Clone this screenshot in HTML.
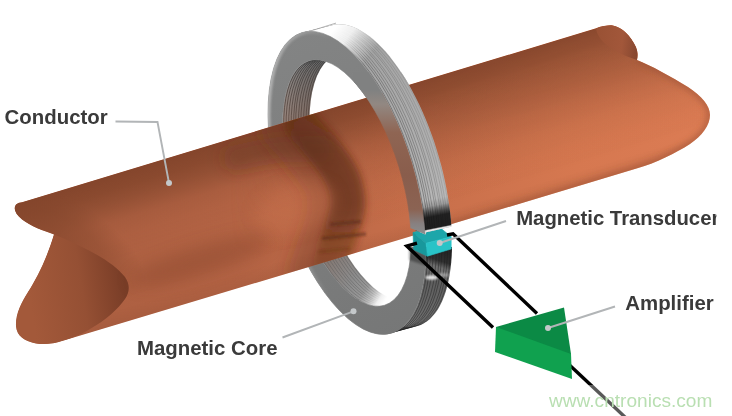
<!DOCTYPE html>
<html><head><meta charset="utf-8"><title>Current sensor diagram</title>
<style>html,body{margin:0;padding:0;background:#fff;}body{width:732px;height:416px;overflow:hidden;font-family:"Liberation Sans",sans-serif;}svg{display:block;}</style>
</head><body>
<svg width="732" height="416" viewBox="0 0 732 416">
<defs>
<linearGradient id="gAxis" gradientUnits="userSpaceOnUse" x1="20" y1="290" x2="700" y2="85">
 <stop offset="0" stop-color="#aa5e40"/><stop offset="0.3" stop-color="#b36344"/><stop offset="0.55" stop-color="#c66e4a"/><stop offset="0.8" stop-color="#d67850"/><stop offset="1" stop-color="#dc7c54"/>
</linearGradient>
<linearGradient id="gPerp" gradientUnits="userSpaceOnUse" x1="300" y1="118.2" x2="342" y2="258">
 <stop offset="0" stop-color="#82442b" stop-opacity="0.96"/><stop offset="0.1" stop-color="#84462c" stop-opacity="0.86"/><stop offset="0.17" stop-color="#86482e" stop-opacity="0.72"/><stop offset="0.24" stop-color="#86482e" stop-opacity="0.48"/><stop offset="0.31" stop-color="#8a4a30" stop-opacity="0.24"/><stop offset="0.42" stop-color="#8c4c31" stop-opacity="0.07"/><stop offset="0.55" stop-color="#8c4c31" stop-opacity="0.01"/><stop offset="0.9" stop-color="#8c4c31" stop-opacity="0"/><stop offset="1" stop-color="#8c4c31" stop-opacity="0.2"/>
</linearGradient>
<linearGradient id="gPerpR" gradientUnits="userSpaceOnUse" x1="300" y1="117" x2="342" y2="257">
 <stop offset="0.14" stop-color="#86482e" stop-opacity="0"/><stop offset="0.24" stop-color="#86482e" stop-opacity="0.28"/><stop offset="0.31" stop-color="#88492f" stop-opacity="0.4"/><stop offset="0.4" stop-color="#8a4a30" stop-opacity="0.35"/><stop offset="0.5" stop-color="#8a4a30" stop-opacity="0.25"/><stop offset="0.62" stop-color="#8c4c31" stop-opacity="0.13"/><stop offset="0.75" stop-color="#8c4c31" stop-opacity="0.04"/><stop offset="0.86" stop-color="#8c4c31" stop-opacity="0"/>
</linearGradient>
<linearGradient id="gAxisMask" gradientUnits="userSpaceOnUse" x1="230" y1="0" x2="440" y2="0">
 <stop offset="0" stop-color="#000"/><stop offset="1" stop-color="#fff"/>
</linearGradient>
<linearGradient id="gAxisMask2" gradientUnits="userSpaceOnUse" x1="380" y1="0" x2="640" y2="0">
 <stop offset="0" stop-color="#fff"/><stop offset="1" stop-color="#ececec"/>
</linearGradient>
<mask id="mAxis2" maskUnits="userSpaceOnUse" x="0" y="0" width="732" height="416"><rect width="732" height="416" fill="url(#gAxisMask2)"/></mask>
<mask id="mAxis" maskUnits="userSpaceOnUse" x="0" y="0" width="732" height="416"><rect width="732" height="416" fill="url(#gAxisMask)"/></mask>
<radialGradient id="gLeftDark" gradientUnits="userSpaceOnUse" cx="0" cy="0" r="1" gradientTransform="translate(58,236) rotate(31.7) scale(100,40)">
 <stop offset="0" stop-color="#84462c" stop-opacity="0.6"/><stop offset="0.5" stop-color="#84462c" stop-opacity="0.42"/><stop offset="1" stop-color="#84462c" stop-opacity="0"/>
</radialGradient>
<linearGradient id="gMouth" gradientUnits="userSpaceOnUse" x1="30" y1="300" x2="125" y2="285">
 <stop offset="0" stop-color="#a3593a"/><stop offset="0.55" stop-color="#955034"/><stop offset="0.85" stop-color="#82432b"/><stop offset="1" stop-color="#783d27"/>
</linearGradient>
<linearGradient id="gLobe" gradientUnits="userSpaceOnUse" x1="598" y1="40" x2="638" y2="45">
 <stop offset="0" stop-color="#9a5235"/><stop offset="0.6" stop-color="#a2573a"/><stop offset="1" stop-color="#864730"/>
</linearGradient>
<linearGradient id="gBandUp" gradientUnits="userSpaceOnUse" x1="325" y1="25" x2="450" y2="228">
 <stop offset="0" stop-color="#909191"/><stop offset="0.12" stop-color="#9e9f9f"/><stop offset="0.3" stop-color="#a7a7a7"/><stop offset="0.7" stop-color="#b1b1b1"/><stop offset="1" stop-color="#bebebe"/>
</linearGradient>
<linearGradient id="gBandDark" gradientUnits="userSpaceOnUse" x1="432.7" y1="199" x2="439.2" y2="231.6">
 <stop offset="0" stop-color="#000" stop-opacity="0"/><stop offset="0.2" stop-color="#000" stop-opacity="0.16"/><stop offset="0.38" stop-color="#0a0a0a" stop-opacity="0.62"/><stop offset="0.52" stop-color="#0a0a0a" stop-opacity="0.87"/><stop offset="0.86" stop-color="#111" stop-opacity="0.92"/><stop offset="0.9" stop-color="#e8e8e8" stop-opacity="0.95"/><stop offset="1" stop-color="#f4f4f4" stop-opacity="1"/>
</linearGradient>
<linearGradient id="gBandLo" gradientUnits="userSpaceOnUse" x1="440" y1="250" x2="415" y2="325">
 <stop offset="0" stop-color="#262626"/><stop offset="0.13" stop-color="#303030"/><stop offset="0.21" stop-color="#6c6c6c"/><stop offset="0.28" stop-color="#707070"/><stop offset="0.38" stop-color="#5e5e5e"/><stop offset="1" stop-color="#707070"/>
</linearGradient>
<linearGradient id="gInsUp" gradientUnits="userSpaceOnUse" x1="284" y1="0" x2="318" y2="0">
 <stop offset="0" stop-color="#909090"/><stop offset="0.4" stop-color="#7c7c7c"/><stop offset="1" stop-color="#666"/>
</linearGradient>
<linearGradient id="gInsLo" gradientUnits="userSpaceOnUse" x1="330" y1="260" x2="392" y2="300">
 <stop offset="0" stop-color="#857a75"/><stop offset="0.4" stop-color="#8c8c8c"/><stop offset="0.62" stop-color="#989898"/><stop offset="0.74" stop-color="#bebebe"/><stop offset="0.85" stop-color="#f0f0f0"/><stop offset="0.93" stop-color="#ffffff"/>
</linearGradient>
<linearGradient id="gFace" gradientUnits="userSpaceOnUse" x1="280" y1="40" x2="420" y2="330">
 <stop offset="0" stop-color="#838484"/><stop offset="0.5" stop-color="#7d7e7e"/><stop offset="1" stop-color="#767777"/>
</linearGradient>
<linearGradient id="gFFup" gradientUnits="userSpaceOnUse" x1="0" y1="90" x2="0" y2="232">
 <stop offset="0" stop-color="#808181"/><stop offset="0.1" stop-color="#928882"/><stop offset="0.3" stop-color="#8f6553"/><stop offset="0.6" stop-color="#895d4c"/><stop offset="0.84" stop-color="#8b6353"/><stop offset="0.94" stop-color="#878080"/><stop offset="1" stop-color="#8a8a8a"/>
</linearGradient>
<linearGradient id="gShad" gradientUnits="userSpaceOnUse" x1="0" y1="125" x2="0" y2="268">
 <stop offset="0" stop-color="#54270f" stop-opacity="0.42"/><stop offset="0.22" stop-color="#54270f" stop-opacity="0.56"/><stop offset="0.56" stop-color="#54270f" stop-opacity="0.58"/><stop offset="0.68" stop-color="#54270f" stop-opacity="0.5"/><stop offset="0.8" stop-color="#54270f" stop-opacity="0.36"/><stop offset="1" stop-color="#54270f" stop-opacity="0.18"/>
</linearGradient>
<linearGradient id="gTint" gradientUnits="userSpaceOnUse" x1="0" y1="62" x2="0" y2="130">
 <stop offset="0" stop-color="#a0644a" stop-opacity="0"/><stop offset="1" stop-color="#a0644a" stop-opacity="0.38"/>
</linearGradient>
<linearGradient id="gFade" gradientUnits="userSpaceOnUse" x1="342" y1="20" x2="376" y2="48">
 <stop offset="0" stop-color="#fff" stop-opacity="1"/><stop offset="0.35" stop-color="#fff" stop-opacity="0.85"/><stop offset="0.6" stop-color="#fff" stop-opacity="0.5"/><stop offset="1" stop-color="#fff" stop-opacity="0"/>
</linearGradient>
<filter id="blur6" filterUnits="userSpaceOnUse" x="0" y="0" width="732" height="416"><feGaussianBlur stdDeviation="6"/></filter>
<filter id="blur5" filterUnits="userSpaceOnUse" x="0" y="0" width="732" height="416"><feGaussianBlur stdDeviation="4.5"/></filter>
<filter id="blur3" filterUnits="userSpaceOnUse" x="0" y="0" width="732" height="416"><feGaussianBlur stdDeviation="3"/></filter>
<filter id="blur1" filterUnits="userSpaceOnUse" x="0" y="0" width="732" height="416"><feGaussianBlur stdDeviation="1.2"/></filter>
<filter id="blur8" filterUnits="userSpaceOnUse" x="0" y="0" width="732" height="416"><feGaussianBlur stdDeviation="8"/></filter>
<filter id="blur3b" filterUnits="userSpaceOnUse" x="0" y="0" width="732" height="416"><feGaussianBlur stdDeviation="3.5"/></filter>
<clipPath id="cCond"><path d="M22,202.2 L596,28.2 C603,25.6 609,25 613,25.5 C622,27 631,36 636,47 C638,52 638,56 637,60 C650,65 672,77 688,87 C702,96 710,106 710,115 C710,125 702,136 690,144 C676,153 656,163 636.5,168.6 L62,341 C55,343.5 45,345 36,343.5 C25,341.5 16.5,336 16,326 C15.5,314 21,303 28,292 C37,278 47,258 54,234.5 C44,231 30,226 22,219.5 C15,214 13,208 16,204.6 C18,202.7 20,202.4 22,202.2 Z"/></clipPath>
<clipPath id="cBO"><path d="M268.1,110.1 L268.3,103.3 L268.7,96.7 L269.4,90.2 L270.2,84.1 L271.3,78.2 L272.6,72.6 L274.0,67.3 L275.7,62.4 L277.6,57.7 L279.6,53.4 L281.9,49.5 L284.3,45.9 L286.9,42.7 L289.7,39.9 L292.6,37.5 L295.6,35.4 L298.8,33.8 L302.2,32.6 L331.3,25.4 L334.7,24.6 L338.3,24.3 L341.9,24.4 L345.7,24.8 L349.5,25.7 L353.4,27.0 L357.3,28.7 L361.3,30.9 L365.3,33.4 L369.4,36.3 L373.4,39.6 L377.5,43.2 L381.5,47.2 L385.6,51.6 L389.6,56.3 L393.5,61.4 L397.4,66.7 L401.3,72.4 L405.1,78.3 L408.8,84.5 L412.3,91.0 L415.8,97.7 L419.2,104.6 L422.5,111.7 L425.6,118.9 L428.6,126.4 L431.4,133.9 L434.1,141.6 L436.6,149.4 L438.9,157.2 L441.1,165.1 L443.1,173.0 L444.9,180.9 L446.5,188.9 L447.9,196.7 L449.1,204.6 L450.1,212.3 L450.9,219.9 L451.5,227.5 L451.8,234.8 L452.0,242.1 L452.0,249.1 L451.7,255.9 L451.2,262.5 L450.5,268.9 L449.6,275.0 L448.5,280.9 L447.2,286.4 L445.7,291.7 L444.0,296.6 L442.1,301.2 L440.0,305.5 L437.8,309.4 L435.3,312.9 L432.7,316.1 L430.0,318.9 L427.1,321.3 L424.0,323.3 L420.8,324.9 L417.5,326.0 L391.6,333.1 L388.1,333.9 L384.6,334.3 L380.9,334.3 L377.1,333.9 L373.3,333.0 L369.4,331.7 L365.4,330.1 L361.3,328.0 L357.3,325.5 L353.2,322.7 L349.0,319.4 L344.9,315.8 L340.8,311.8 L336.7,307.5 L332.6,302.8 L328.6,297.8 L324.6,292.4 L320.7,286.8 L316.8,280.9 L313.0,274.7 L309.4,268.3 L305.8,261.6 L302.3,254.7 L299.0,247.7 L295.8,240.4 L292.7,233.0 L289.8,225.4 L287.0,217.8 L284.4,210.0 L282.0,202.2 L279.7,194.3 L277.7,186.4 L275.8,178.4 L274.1,170.5 L272.6,162.6 L271.3,154.8 L270.3,147.0 L269.4,139.4 L268.8,131.8 L268.3,124.4 L268.1,117.2 Z"/></clipPath>
<clipPath id="cFO"><path d="M302.17,32.58 A156.79,67.70 -106.57 1,0 391.59,333.14 A156.79,67.70 -106.57 1,0 302.17,32.58 Z"/></clipPath>
<linearGradient id="gHi" gradientUnits="userSpaceOnUse" x1="262" y1="0" x2="330" y2="0"><stop offset="0" stop-color="#c4c4c4" stop-opacity="0.8"/><stop offset="0.5" stop-color="#c0c0c0" stop-opacity="0.45"/><stop offset="1" stop-color="#c0c0c0" stop-opacity="0"/></linearGradient>
<clipPath id="cFI"><path d="M309.10,60.73 A127.94,54.60 -107.14 1,0 384.52,305.25 A127.94,54.60 -107.14 1,0 309.10,60.73 Z"/></clipPath>
<clipPath id="cUpper"><rect x="0" y="0" width="732" height="240"/></clipPath>
<clipPath id="cLower"><rect x="0" y="240" width="732" height="176"/></clipPath>
<clipPath id="cBack"><path clip-rule="evenodd" d="M0,0H732V416H0Z M400,212H475V247H400Z"/></clipPath>
<clipPath id="cFront"><path d="M352,72 L500,72 L500,216 L452,226.6 L426.2,232.2 L425.3,234.6 L411,228.2 L380,228 Z"/></clipPath>
<linearGradient id="gMaskLo" gradientUnits="userSpaceOnUse" x1="330" y1="260" x2="392" y2="300"><stop offset="0" stop-color="#fff"/><stop offset="0.55" stop-color="#fff"/><stop offset="0.85" stop-color="#000"/></linearGradient>
<mask id="mInsLo" maskUnits="userSpaceOnUse" x="0" y="0" width="732" height="416"><rect width="732" height="416" fill="url(#gMaskLo)"/></mask>
</defs>
<rect width="732" height="416" fill="#fff"/>
<g id="ringback" clip-path="url(#cBack)">
<g clip-path="url(#cBO)">
<g clip-path="url(#cUpper)">
<path d="M-10,-10 H750 V430 H-10 Z M302.17,32.58 A156.79,67.70 -106.57 1,0 391.59,333.14 A156.79,67.70 -106.57 1,0 302.17,32.58 Z" fill-rule="evenodd" fill="url(#gBandUp)"/>
<path d="M303.38,32.28 A156.77,67.68 -106.55 1,0 392.67,332.84 A156.77,67.68 -106.55 1,0 303.38,32.28 Z" fill="none" stroke="#686868" stroke-width="0.99" opacity="0.78"/>
<path d="M305.81,31.68 A156.74,67.63 -106.50 1,0 394.83,332.25 A156.74,67.63 -106.50 1,0 305.81,31.68 Z" fill="none" stroke="#686868" stroke-width="0.96" opacity="0.74"/>
<path d="M308.24,31.08 A156.70,67.59 -106.45 1,0 396.99,331.66 A156.70,67.59 -106.45 1,0 308.24,31.08 Z" fill="none" stroke="#686868" stroke-width="0.92" opacity="0.71"/>
<path d="M310.66,30.48 A156.67,67.54 -106.40 1,0 399.15,331.07 A156.67,67.54 -106.40 1,0 310.66,30.48 Z" fill="none" stroke="#686868" stroke-width="0.88" opacity="0.67"/>
<path d="M313.09,29.88 A156.63,67.49 -106.36 1,0 401.31,330.47 A156.63,67.49 -106.36 1,0 313.09,29.88 Z" fill="none" stroke="#686868" stroke-width="0.84" opacity="0.63"/>
<path d="M315.52,29.29 A156.60,67.45 -106.31 1,0 403.46,329.88 A156.60,67.45 -106.31 1,0 315.52,29.29 Z" fill="none" stroke="#686868" stroke-width="0.81" opacity="0.60"/>
<path d="M317.95,28.69 A156.56,67.40 -106.26 1,0 405.62,329.29 A156.56,67.40 -106.26 1,0 317.95,28.69 Z" fill="none" stroke="#686868" stroke-width="0.77" opacity="0.56"/>
<path d="M320.38,28.09 A156.53,67.36 -106.21 1,0 407.78,328.69 A156.53,67.36 -106.21 1,0 320.38,28.09 Z" fill="none" stroke="#686868" stroke-width="0.73" opacity="0.52"/>
<path d="M322.81,27.49 A156.49,67.31 -106.16 1,0 409.94,328.10 A156.49,67.31 -106.16 1,0 322.81,27.49 Z" fill="none" stroke="#686868" stroke-width="0.69" opacity="0.49"/>
<path d="M325.24,26.89 A156.46,67.26 -106.12 1,0 412.10,327.51 A156.46,67.26 -106.12 1,0 325.24,26.89 Z" fill="none" stroke="#686868" stroke-width="0.66" opacity="0.45"/>
<path d="M327.66,26.29 A156.42,67.22 -106.07 1,0 414.26,326.91 A156.42,67.22 -106.07 1,0 327.66,26.29 Z" fill="none" stroke="#686868" stroke-width="0.62" opacity="0.41"/>
<path d="M330.09,25.69 A156.39,67.17 -106.02 1,0 416.41,326.32 A156.39,67.17 -106.02 1,0 330.09,25.69 Z" fill="none" stroke="#686868" stroke-width="0.58" opacity="0.38"/>
<rect x="296" y="5" width="95" height="75" fill="url(#gFade)"/>
<rect x="415" y="195" width="45" height="42" fill="url(#gBandDark)"/>
</g>
<g clip-path="url(#cLower)">
<path d="M-10,-10 H750 V430 H-10 Z M302.17,32.58 A156.79,67.70 -106.57 1,0 391.59,333.14 A156.79,67.70 -106.57 1,0 302.17,32.58 Z" fill-rule="evenodd" fill="url(#gBandLo)"/>
<path d="M303.78,32.18 A156.77,67.67 -106.54 1,0 393.03,332.74 A156.77,67.67 -106.54 1,0 303.78,32.18 Z" fill="none" stroke="#1c1c1c" stroke-width="0.80" opacity="0.55"/>
<path d="M307.02,31.38 A156.72,67.61 -106.47 1,0 395.91,331.95 A156.72,67.61 -106.47 1,0 307.02,31.38 Z" fill="none" stroke="#1c1c1c" stroke-width="0.80" opacity="0.55"/>
<path d="M310.26,30.58 A156.67,67.55 -106.41 1,0 398.79,331.16 A156.67,67.55 -106.41 1,0 310.26,30.58 Z" fill="none" stroke="#1c1c1c" stroke-width="0.80" opacity="0.55"/>
<path d="M313.50,29.78 A156.63,67.49 -106.35 1,0 401.67,330.37 A156.63,67.49 -106.35 1,0 313.50,29.78 Z" fill="none" stroke="#1c1c1c" stroke-width="0.80" opacity="0.55"/>
<path d="M316.74,28.99 A156.58,67.43 -106.28 1,0 404.54,329.58 A156.58,67.43 -106.28 1,0 316.74,28.99 Z" fill="none" stroke="#1c1c1c" stroke-width="0.80" opacity="0.55"/>
<path d="M319.97,28.19 A156.53,67.36 -106.22 1,0 407.42,328.79 A156.53,67.36 -106.22 1,0 319.97,28.19 Z" fill="none" stroke="#1c1c1c" stroke-width="0.80" opacity="0.55"/>
<path d="M323.21,27.39 A156.49,67.30 -106.16 1,0 410.30,328.00 A156.49,67.30 -106.16 1,0 323.21,27.39 Z" fill="none" stroke="#1c1c1c" stroke-width="0.80" opacity="0.55"/>
<path d="M326.45,26.59 A156.44,67.24 -106.09 1,0 413.18,327.21 A156.44,67.24 -106.09 1,0 326.45,26.59 Z" fill="none" stroke="#1c1c1c" stroke-width="0.80" opacity="0.55"/>
<path d="M329.69,25.79 A156.39,67.18 -106.03 1,0 416.06,326.42 A156.39,67.18 -106.03 1,0 329.69,25.79 Z" fill="none" stroke="#1c1c1c" stroke-width="0.80" opacity="0.55"/>
<ellipse cx="431.5" cy="277.5" rx="6.5" ry="2.2" fill="#fff" opacity="0.85" filter="url(#blur1)"/>
<ellipse cx="443" cy="275" rx="6" ry="2" fill="#ddd" opacity="0.45" filter="url(#blur1)"/>
</g>
</g>
<g clip-path="url(#cFI)">
<g clip-path="url(#cUpper)">
<path d="M-10,-10 H750 V430 H-10 Z M338.22,54.31 A127.50,55.30 -106.11 1,0 408.98,299.29 A127.50,55.30 -106.11 1,0 338.22,54.31 Z" fill-rule="evenodd" fill="url(#gInsUp)"/>
<path d="M310.42,60.44 A127.92,54.63 -107.10 1,0 385.63,304.98 A127.92,54.63 -107.10 1,0 310.42,60.44 Z" fill="none" stroke="#3c3c3c" stroke-width="1.00" opacity="0.80"/>
<path d="M313.07,59.86 A127.88,54.70 -107.00 1,0 387.86,304.44 A127.88,54.70 -107.00 1,0 313.07,59.86 Z" fill="none" stroke="#3c3c3c" stroke-width="1.00" opacity="0.80"/>
<path d="M315.72,59.27 A127.84,54.76 -106.91 1,0 390.08,303.90 A127.84,54.76 -106.91 1,0 315.72,59.27 Z" fill="none" stroke="#3c3c3c" stroke-width="1.00" opacity="0.80"/>
<path d="M318.36,58.68 A127.80,54.82 -106.81 1,0 392.30,303.36 A127.80,54.82 -106.81 1,0 318.36,58.68 Z" fill="none" stroke="#3c3c3c" stroke-width="1.00" opacity="0.80"/>
<path d="M321.01,58.10 A127.76,54.89 -106.72 1,0 394.53,302.82 A127.76,54.89 -106.72 1,0 321.01,58.10 Z" fill="none" stroke="#3c3c3c" stroke-width="1.00" opacity="0.80"/>
<path d="M323.66,57.52 A127.72,54.95 -106.63 1,0 396.75,302.27 A127.72,54.95 -106.63 1,0 323.66,57.52 Z" fill="none" stroke="#3c3c3c" stroke-width="1.00" opacity="0.80"/>
<path d="M326.31,56.93 A127.68,55.01 -106.53 1,0 398.98,301.73 A127.68,55.01 -106.53 1,0 326.31,56.93 Z" fill="none" stroke="#3c3c3c" stroke-width="1.00" opacity="0.80"/>
<path d="M328.95,56.35 A127.64,55.08 -106.44 1,0 401.20,301.19 A127.64,55.08 -106.44 1,0 328.95,56.35 Z" fill="none" stroke="#3c3c3c" stroke-width="1.00" opacity="0.80"/>
<path d="M331.60,55.76 A127.60,55.14 -106.35 1,0 403.42,300.65 A127.60,55.14 -106.35 1,0 331.60,55.76 Z" fill="none" stroke="#3c3c3c" stroke-width="1.00" opacity="0.80"/>
<path d="M334.25,55.18 A127.56,55.20 -106.25 1,0 405.65,300.11 A127.56,55.20 -106.25 1,0 334.25,55.18 Z" fill="none" stroke="#3c3c3c" stroke-width="1.00" opacity="0.80"/>
<path d="M336.89,54.60 A127.52,55.27 -106.16 1,0 407.87,299.56 A127.52,55.27 -106.16 1,0 336.89,54.60 Z" fill="none" stroke="#3c3c3c" stroke-width="1.00" opacity="0.80"/>
<path d="M-10,-10 H750 V430 H-10 Z M338.22,54.31 A127.50,55.30 -106.11 1,0 408.98,299.29 A127.50,55.30 -106.11 1,0 338.22,54.31 Z" fill-rule="evenodd" fill="url(#gTint)"/>
</g>
<g clip-path="url(#cLower)">
<path d="M-10,-10 H750 V430 H-10 Z M338.22,54.31 A127.50,55.30 -106.11 1,0 408.98,299.29 A127.50,55.30 -106.11 1,0 338.22,54.31 Z" fill-rule="evenodd" fill="url(#gInsLo)"/>
<g opacity="0.6" mask="url(#mInsLo)"><path d="M310.72,60.38 A127.92,54.64 -107.09 1,0 385.88,304.92 A127.92,54.64 -107.09 1,0 310.72,60.38 Z" fill="none" stroke="#585858" stroke-width="0.70" opacity="1.00"/>
<path d="M313.95,59.66 A127.87,54.72 -106.97 1,0 388.60,304.26 A127.87,54.72 -106.97 1,0 313.95,59.66 Z" fill="none" stroke="#585858" stroke-width="0.70" opacity="1.00"/>
<path d="M317.19,58.94 A127.82,54.79 -106.86 1,0 391.32,303.60 A127.82,54.79 -106.86 1,0 317.19,58.94 Z" fill="none" stroke="#585858" stroke-width="0.70" opacity="1.00"/>
<path d="M320.42,58.23 A127.77,54.87 -106.74 1,0 394.03,302.94 A127.77,54.87 -106.74 1,0 320.42,58.23 Z" fill="none" stroke="#585858" stroke-width="0.70" opacity="1.00"/>
<path d="M323.66,57.52 A127.72,54.95 -106.63 1,0 396.75,302.27 A127.72,54.95 -106.63 1,0 323.66,57.52 Z" fill="none" stroke="#585858" stroke-width="0.70" opacity="1.00"/>
<path d="M326.89,56.80 A127.67,55.03 -106.51 1,0 399.47,301.61 A127.67,55.03 -106.51 1,0 326.89,56.80 Z" fill="none" stroke="#585858" stroke-width="0.70" opacity="1.00"/>
<path d="M330.13,56.09 A127.62,55.11 -106.40 1,0 402.19,300.95 A127.62,55.11 -106.40 1,0 330.13,56.09 Z" fill="none" stroke="#585858" stroke-width="0.70" opacity="1.00"/>
<path d="M333.36,55.38 A127.57,55.18 -106.28 1,0 404.91,300.29 A127.57,55.18 -106.28 1,0 333.36,55.38 Z" fill="none" stroke="#585858" stroke-width="0.70" opacity="1.00"/>
<path d="M336.60,54.66 A127.52,55.26 -106.17 1,0 407.62,299.62 A127.52,55.26 -106.17 1,0 336.60,54.66 Z" fill="none" stroke="#585858" stroke-width="0.70" opacity="1.00"/></g>
</g>
</g>
<path d="M302.17,32.58 A156.79,67.70 -106.57 1,0 391.59,333.14 A156.79,67.70 -106.57 1,0 302.17,32.58 Z M309.10,60.73 A127.94,54.60 -107.14 1,0 384.52,305.25 A127.94,54.60 -107.14 1,0 309.10,60.73 Z" fill-rule="evenodd" fill="url(#gFace)" stroke="url(#gFace)" stroke-width="0.6"/>
<g clip-path="url(#cFO)"><path d="M302.17,32.58 A156.79,67.70 -106.57 1,0 391.59,333.14 A156.79,67.70 -106.57 1,0 302.17,32.58 Z" fill="none" stroke="url(#gHi)" stroke-width="5" filter="url(#blur1)"/></g>
<path d="M310.8,30.9 L336,23.1" stroke="#a0a0a0" stroke-width="0.8" fill="none"/>
</g>
<path d="M409,247 L427,256 L427,266 L409,260 Z" fill="#000" opacity="0.35" filter="url(#blur1)"/>
<g id="conductor">
<path d="M22,202.2 L596,28.2 C603,25.6 609,25 613,25.5 C622,27 631,36 636,47 C638,52 638,56 637,60 C650,65 672,77 688,87 C702,96 710,106 710,115 C710,125 702,136 690,144 C676,153 656,163 636.5,168.6 L62,341 C55,343.5 45,345 36,343.5 C25,341.5 16.5,336 16,326 C15.5,314 21,303 28,292 C37,278 47,258 54,234.5 C44,231 30,226 22,219.5 C15,214 13,208 16,204.6 C18,202.7 20,202.4 22,202.2 Z" fill="url(#gAxis)"/>
<g clip-path="url(#cCond)">
<path d="M22,202.2 L596,28.2 C603,25.6 609,25 613,25.5 C622,27 631,36 636,47 C638,52 638,56 637,60 C650,65 672,77 688,87 C702,96 710,106 710,115 C710,125 702,136 690,144 C676,153 656,163 636.5,168.6 L62,341 C55,343.5 45,345 36,343.5 C25,341.5 16.5,336 16,326 C15.5,314 21,303 28,292 C37,278 47,258 54,234.5 C44,231 30,226 22,219.5 C15,214 13,208 16,204.6 C18,202.7 20,202.4 22,202.2 Z" fill="url(#gPerp)" mask="url(#mAxis2)"/>
<path d="M22,202.2 L596,28.2 C603,25.6 609,25 613,25.5 C622,27 631,36 636,47 C638,52 638,56 637,60 C650,65 672,77 688,87 C702,96 710,106 710,115 C710,125 702,136 690,144 C676,153 656,163 636.5,168.6 L62,341 C55,343.5 45,345 36,343.5 C25,341.5 16.5,336 16,326 C15.5,314 21,303 28,292 C37,278 47,258 54,234.5 C44,231 30,226 22,219.5 C15,214 13,208 16,204.6 C18,202.7 20,202.4 22,202.2 Z" fill="url(#gPerpR)" mask="url(#mAxis)"/>
<path d="M22,202.2 L596,28.2 C603,25.6 609,25 613,25.5 C622,27 631,36 636,47 C638,52 638,56 637,60 C650,65 672,77 688,87 C702,96 710,106 710,115 C710,125 702,136 690,144 C676,153 656,163 636.5,168.6 L62,341 C55,343.5 45,345 36,343.5 C25,341.5 16.5,336 16,326 C15.5,314 21,303 28,292 C37,278 47,258 54,234.5 C44,231 30,226 22,219.5 C15,214 13,208 16,204.6 C18,202.7 20,202.4 22,202.2 Z" fill="url(#gLeftDark)"/>
<path d="M596,28.2 C603,25.6 609,25 613,25.5 C622,27 631,36 636,47 C638,52 638,56 637,60 C628,57 618,53 611,48 C603,43 597,36 596,28.2 Z" fill="url(#gLobe)"/>
<path d="M54,234.5 C66,239 76,244 88,250 C104,258 118,268 125,277 C130,284 130,292 125,299 C118,309 106,320 90,329 C80,335 70,339 62,341 C55,343.5 45,345 36,343.5 C25,341.5 16.5,336 16,326 C15.5,314 21,303 28,292 C37,278 47,258 54,234.5 Z" fill="url(#gMouth)"/>
<path d="M236,158 C262,152 290,146 318,150" fill="none" stroke="#5a2a16" stroke-opacity="0.30" stroke-width="26" stroke-linecap="round" filter="url(#blur8)"/>
<path d="M286,128 C296,138 314,160 323,174 C331,186 334,200 332,212 C330,226 322,246 314,270" fill="none" stroke="#5a2a16" stroke-opacity="0.30" stroke-width="50" stroke-linecap="round" filter="url(#blur8)"/>
<path d="M302,124 C313,137 331,157 339,171 C346,183 349,198 347,210 C345,222 338,240 331,264" fill="none" stroke="url(#gShad)" stroke-width="35" stroke-linecap="round" filter="url(#blur3b)"/>
<path d="M330,224.5 L361,221.5 M322,238.5 L366,234" stroke="#552813" stroke-opacity="0.5" stroke-width="3.4" fill="none" filter="url(#blur1)"/>
<path d="M318,252 L350,248.5" stroke="#552813" stroke-opacity="0.2" stroke-width="4" fill="none" filter="url(#blur1)"/>
<ellipse cx="296" cy="208" rx="42" ry="24" transform="rotate(-17 296 208)" fill="#d47a54" opacity="0.30" filter="url(#blur8)"/>
<ellipse cx="200" cy="261" rx="72" ry="14" transform="rotate(-17 200 261)" fill="#824329" opacity="0.36" filter="url(#blur8)"/>
<path d="M637,60 C650,65 672,77 688,87 C702,96 710,106 710,115 C710,125 702,136 690,144 C676,153 656,163 636.5,168.6 L440,228" fill="none" stroke="#9a5034" stroke-opacity="0.6" stroke-width="6" filter="url(#blur3)"/>
</g>
</g>
<g id="transducer">
<path d="M413,232.5 L438,226 L451.2,236.7 L426,243.2 Z" fill="#1da6aa" stroke="#1da6aa" stroke-width="0.6"/>
<path d="M413,232.5 L426,243.2 L427.4,256.2 L413.7,249.7 Z" fill="#18989c" stroke="#18989c" stroke-width="0.6"/>
<path d="M426,243.2 L451.2,236.7 L451.2,249 L427.4,256.2 Z" fill="#29c3c7" stroke="#29c3c7" stroke-width="0.6"/>
</g>
<g clip-path="url(#cFront)">
<g clip-path="url(#cBO)">
<g clip-path="url(#cUpper)">
<path d="M-10,-10 H750 V430 H-10 Z M302.17,32.58 A156.79,67.70 -106.57 1,0 391.59,333.14 A156.79,67.70 -106.57 1,0 302.17,32.58 Z" fill-rule="evenodd" fill="url(#gBandUp)"/>
<path d="M303.38,32.28 A156.77,67.68 -106.55 1,0 392.67,332.84 A156.77,67.68 -106.55 1,0 303.38,32.28 Z" fill="none" stroke="#686868" stroke-width="0.99" opacity="0.78"/>
<path d="M305.81,31.68 A156.74,67.63 -106.50 1,0 394.83,332.25 A156.74,67.63 -106.50 1,0 305.81,31.68 Z" fill="none" stroke="#686868" stroke-width="0.96" opacity="0.74"/>
<path d="M308.24,31.08 A156.70,67.59 -106.45 1,0 396.99,331.66 A156.70,67.59 -106.45 1,0 308.24,31.08 Z" fill="none" stroke="#686868" stroke-width="0.92" opacity="0.71"/>
<path d="M310.66,30.48 A156.67,67.54 -106.40 1,0 399.15,331.07 A156.67,67.54 -106.40 1,0 310.66,30.48 Z" fill="none" stroke="#686868" stroke-width="0.88" opacity="0.67"/>
<path d="M313.09,29.88 A156.63,67.49 -106.36 1,0 401.31,330.47 A156.63,67.49 -106.36 1,0 313.09,29.88 Z" fill="none" stroke="#686868" stroke-width="0.84" opacity="0.63"/>
<path d="M315.52,29.29 A156.60,67.45 -106.31 1,0 403.46,329.88 A156.60,67.45 -106.31 1,0 315.52,29.29 Z" fill="none" stroke="#686868" stroke-width="0.81" opacity="0.60"/>
<path d="M317.95,28.69 A156.56,67.40 -106.26 1,0 405.62,329.29 A156.56,67.40 -106.26 1,0 317.95,28.69 Z" fill="none" stroke="#686868" stroke-width="0.77" opacity="0.56"/>
<path d="M320.38,28.09 A156.53,67.36 -106.21 1,0 407.78,328.69 A156.53,67.36 -106.21 1,0 320.38,28.09 Z" fill="none" stroke="#686868" stroke-width="0.73" opacity="0.52"/>
<path d="M322.81,27.49 A156.49,67.31 -106.16 1,0 409.94,328.10 A156.49,67.31 -106.16 1,0 322.81,27.49 Z" fill="none" stroke="#686868" stroke-width="0.69" opacity="0.49"/>
<path d="M325.24,26.89 A156.46,67.26 -106.12 1,0 412.10,327.51 A156.46,67.26 -106.12 1,0 325.24,26.89 Z" fill="none" stroke="#686868" stroke-width="0.66" opacity="0.45"/>
<path d="M327.66,26.29 A156.42,67.22 -106.07 1,0 414.26,326.91 A156.42,67.22 -106.07 1,0 327.66,26.29 Z" fill="none" stroke="#686868" stroke-width="0.62" opacity="0.41"/>
<path d="M330.09,25.69 A156.39,67.17 -106.02 1,0 416.41,326.32 A156.39,67.17 -106.02 1,0 330.09,25.69 Z" fill="none" stroke="#686868" stroke-width="0.58" opacity="0.38"/>
<rect x="296" y="5" width="95" height="75" fill="url(#gFade)"/>
<rect x="415" y="195" width="45" height="42" fill="url(#gBandDark)"/>
</g>
</g>
<path d="M302.17,32.58 A156.79,67.70 -106.57 1,0 391.59,333.14 A156.79,67.70 -106.57 1,0 302.17,32.58 Z M309.10,60.73 A127.94,54.60 -107.14 1,0 384.52,305.25 A127.94,54.60 -107.14 1,0 309.10,60.73 Z" fill-rule="evenodd" fill="url(#gFFup)" stroke="url(#gFFup)" stroke-width="0.6"/>
</g>
<g fill="none" stroke="#000" stroke-width="3.4" stroke-linejoin="miter">
<path d="M417,243.2 L406.8,246 L493,327.5"/>
<path d="M447,235 L453,233.8 L537,313.5"/>
<path d="M570,365.5 L626,418"/>
</g>
<path d="M496,327 L564,307.5 L571,354 L571,356 L496,329 Z" fill="#0b8a45"/>
<path d="M496,327 L571,354 L572,379 L495,352 Z" fill="#10a14f"/>
<rect x="532" y="385" width="200" height="31" fill="#fff" fill-opacity="0.35"/>
<text x="549" y="406.5" font-family="Liberation Sans, sans-serif" font-size="19.1" fill="#b9dfb2" opacity="0.995">www.cntronics.com</text>
<g fill="none" stroke="#b2b5b7" stroke-width="1.9">
<path d="M115.5,121.5 L157.5,122 L169,183"/>
<path d="M353.5,311.3 L282.5,337.5"/>
<path d="M439.7,243 L506,221"/>
<path d="M548,328 L615,306.5"/>
</g>
<g fill="#c4c8ca">
<circle cx="169" cy="183" r="3"/>
<circle cx="353.5" cy="311.3" r="3"/>
<circle cx="439.7" cy="243" r="3"/>
<circle cx="548" cy="328" r="3"/>
</g>
<g font-family="Liberation Sans, sans-serif" font-weight="bold" font-size="20.4" fill="#3a3a3a" opacity="0.995">
<text x="4.6" y="124.3">Conductor</text>
<text x="137" y="355.2">Magnetic Core</text>
<text x="516.2" y="225.4" font-size="20.32">Magnetic Transducer</text>
<text x="625.3" y="310.1">Amplifier</text>
</g>
<rect x="716.4" y="200" width="16" height="32" fill="#fff"/>
</svg>
</body></html>
